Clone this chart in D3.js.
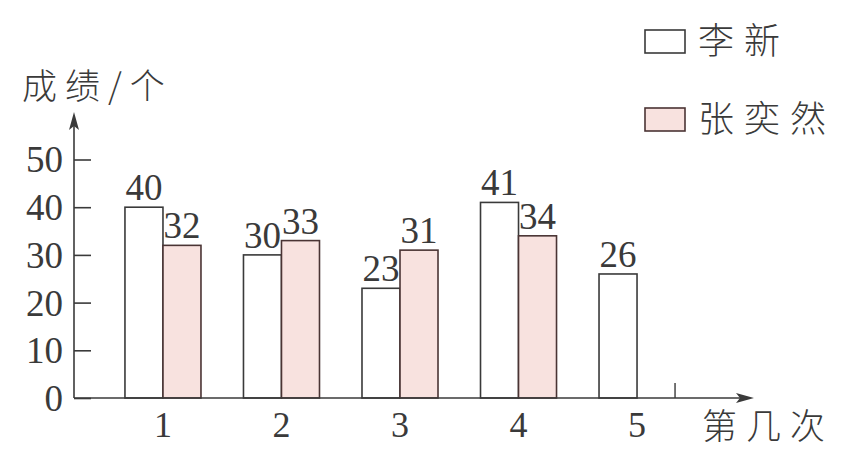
<!DOCTYPE html>
<html><head><meta charset="utf-8">
<script src="https://cdn.jsdelivr.net/npm/d3@7"></script>
<style>html,body{margin:0;padding:0;background:#fff;}</style>
</head><body>
<svg id="c" width="865" height="452"></svg>
<script>
const categories = ["1", "2", "3", "4", "5"];
const seriesNames = ["李新", "张奕然"];
const liXin = [40, 30, 23, 41, 26];
const zhangYiran = [32, 33, 31, 34, null];
const yTicks = [0, 10, 20, 30, 40, 50];
const yTitle = "成绩/个";
const xTitle = "第几次";

const ink = "#3a3a3a";
const pink = "#f8e2df";
const serif = "'Liberation Serif','DejaVu Serif',serif";
const cjk = "'Noto Sans CJK SC','Noto Sans',sans-serif";

const svg = d3.select("#c");
const x0 = 74, yBase = 398;
const y = d3.scaleLinear().domain([0, 50]).range([yBase, 159.5]);
const x = d3.scaleBand().domain(categories).range([x0, 726]).paddingInner(0.3586).paddingOuter(0.43);
const xs = d3.scaleBand().domain(seriesNames).range([0, x.bandwidth()]);

const seriesData = [liXin, zhangYiran];
const fills = ["#fff", pink];
const strokes = [ink, "#4a3434"];

// bars
seriesNames.forEach((s, si) => {
  const data = categories.map((c, i) => ({c, v: seriesData[si][i]})).filter(d => d.v != null);
  const g = svg.append("g");
  g.selectAll("rect").data(data).join("rect")
    .attr("x", d => x(d.c) + xs(s))
    .attr("y", d => y(d.v))
    .attr("width", xs.bandwidth())
    .attr("height", d => yBase - y(d.v))
    .attr("fill", fills[si]).attr("stroke", strokes[si]).attr("stroke-width", 1.6);
  g.selectAll("text").data(data).join("text")
    .attr("x", d => x(d.c) + xs(s) + xs.bandwidth() / 2)
    .attr("y", d => y(d.v) - 7)
    .attr("text-anchor", "middle")
    .attr("font-family", serif).attr("font-size", 37).attr("fill", ink)
    .text(d => d.v);
});

// y axis
const yAxis = d3.axisRight(y).tickValues(yTicks).tickSize(17).tickFormat("");
const ya = svg.append("g").attr("transform", `translate(${x0},0)`).call(yAxis);
ya.select(".domain").remove();
ya.selectAll("line").attr("stroke", ink).attr("stroke-width", 1.6);
svg.selectAll("text.ytl").data(yTicks).join("text").attr("class", "ytl")
  .attr("x", 63).attr("y", d => y(d)).attr("dy", "0.35em")
  .attr("text-anchor", "end")
  .attr("font-family", serif).attr("font-size", 37).attr("fill", ink)
  .text(d => d);
svg.append("line").attr("x1", x0).attr("x2", x0).attr("y1", yBase).attr("y2", 122)
  .attr("stroke", ink).attr("stroke-width", 1.6);
svg.append("path").attr("d", `M${x0},112 L${x0 - 5},130 L${x0},126 L${x0 + 5},130 Z`).attr("fill", ink);

// x axis
svg.append("line").attr("x1", x0).attr("x2", 745).attr("y1", yBase).attr("y2", yBase)
  .attr("stroke", ink).attr("stroke-width", 1.6);
svg.append("path").attr("d", `M754,${yBase} L736,${yBase - 5} L740,${yBase} L736,${yBase + 5} Z`).attr("fill", ink);
// small tick at end of last group
svg.append("line")
  .attr("x1", x("5") + x.bandwidth()).attr("x2", x("5") + x.bandwidth())
  .attr("y1", yBase).attr("y2", yBase - 15).attr("stroke", ink).attr("stroke-width", 1.4);
svg.selectAll("text.xtl").data(categories).join("text").attr("class", "xtl")
  .attr("x", d => x(d) + x.bandwidth() / 2).attr("y", 437)
  .attr("text-anchor", "middle")
  .attr("font-family", serif).attr("font-size", 36).attr("fill", ink)
  .text(d => d);

// titles
svg.append("text").attr("x", 22).attr("y", 99)
  .attr("font-family", cjk).attr("font-size", 35).attr("font-weight", 300)
  .attr("letter-spacing", 8).attr("fill", ink).text(yTitle);
svg.append("text").attr("x", 702).attr("y", 439)
  .attr("font-family", cjk).attr("font-size", 35).attr("font-weight", 300)
  .attr("letter-spacing", 9).attr("fill", ink).text(xTitle);

// legend
const legY = [30, 108];
seriesNames.forEach((s, si) => {
  svg.append("rect").attr("x", 645).attr("y", legY[si]).attr("width", 40).attr("height", 23)
    .attr("fill", fills[si]).attr("stroke", strokes[si]).attr("stroke-width", 1.6);
  svg.append("text").attr("x", 698).attr("y", legY[si] + 24)
    .attr("font-family", cjk).attr("font-size", 36).attr("font-weight", 300)
    .attr("letter-spacing", 10).attr("fill", ink).text(s);
});
</script>
</body></html>
